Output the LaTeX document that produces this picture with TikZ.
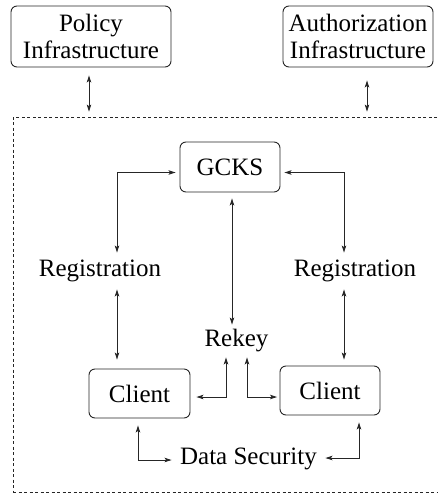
\documentclass[tikz,border=0pt]{standalone}
\usepackage{fontspec}
\setmainfont{Liberation Serif}
\usetikzlibrary{arrows.meta}
\begin{document}
\begin{tikzpicture}[x=1pt,y=-1pt,
  font=\fontsize{25}{27.5}\selectfont,
  line width=0.9pt, draw=black!85,
  box/.style={draw=black!85, rounded corners=6pt, inner sep=0pt, align=center},
  lbl/.style={inner sep=0pt, align=center},
  conn/.style={{Stealth[length=7pt,width=4.5pt,inset=1.5pt]}-{Stealth[length=7pt,width=4.5pt,inset=1.5pt]}, draw=black!85, line width=0.9pt},
  grpbox/.style={draw=black!85, dash pattern=on 3pt off 2.5pt, line width=0.8pt, inner sep=0pt}
]
\useasboundingbox (0,0) rectangle (438,493);
% outer group
\node[grpbox, minimum width=437pt, minimum height=375pt] (grp) at (231.5,304.5) {};
% top boxes
\node[box, minimum width=160pt, minimum height=61pt] (pol) at (91,36.5) {Policy\\Infrastructure};
\node[box, minimum width=150pt, minimum height=61pt] (auth) at (358,36.5) {Authorization\\Infrastructure};
% inner nodes
\node[box, minimum width=100pt, minimum height=50pt] (gcks) at (230,167) {GCKS};
\node[lbl, minimum width=126pt, minimum height=36pt] (regL) at (100,271) {Registration};
\node[lbl, minimum width=123pt, minimum height=36pt] (regR) at (355,271) {Registration};
\node[lbl, minimum width=63pt, minimum height=32pt] (rekey) at (236.5,341) {Rekey};
\node[box, minimum width=101pt, minimum height=49pt] (clL) at (139.5,393.5) {Client};
\node[box, minimum width=100pt, minimum height=49pt] (clR) at (330,390.5) {Client};
\node[lbl, minimum width=153pt, minimum height=30pt] (data) at (248.5,459) {Data Security};
% connectors to outer infrastructures
\draw[conn, shorten <=8pt, shorten >=5pt] ([xshift=-2pt]pol.south) -- ([xshift=-2pt]pol.south |- grp.north);
\draw[conn, shorten <=13pt, shorten >=5pt] ([xshift=9pt]auth.south) -- ([xshift=9pt]auth.south |- grp.north);
% GCKS to registrations
\draw[conn, shorten >=4pt] ([xshift=17pt]regL.north) |- ([yshift=-5.5pt]gcks.west);
\draw[conn, shorten >=4pt] ([xshift=-11pt]regR.north) |- ([yshift=-5.5pt]gcks.east);
% GCKS to rekey
\draw[conn, shorten <=6pt] ([xshift=2pt]gcks.south) -- ([xshift=2pt]gcks.south |- rekey.north);
% registrations to clients
\draw[conn, shorten >=9pt] ([xshift=17pt]regL.south) -- ([xshift=17pt]regL.south |- clL.north);
\draw[conn, shorten >=6pt] ([xshift=-11pt]regR.south) -- ([xshift=-11pt]regR.south |- clR.north);
% rekey to clients
\draw[conn, shorten <=6pt] ([yshift=-3.5pt]clL.east) -| ([xshift=-10.5pt]rekey.south);
\draw[conn, shorten <=2.5pt] ([yshift=-6.5pt]clR.west) -| ([xshift=10.5pt]rekey.south);
% clients to data security
\draw[conn, shorten <=7pt] ([xshift=-1.5pt]clL.south) |- ([yshift=-1pt]data.west);
\draw[conn, shorten <=7pt] ([xshift=29pt]clR.south) |- ([yshift=1pt]data.east);
\end{tikzpicture}
\end{document}
